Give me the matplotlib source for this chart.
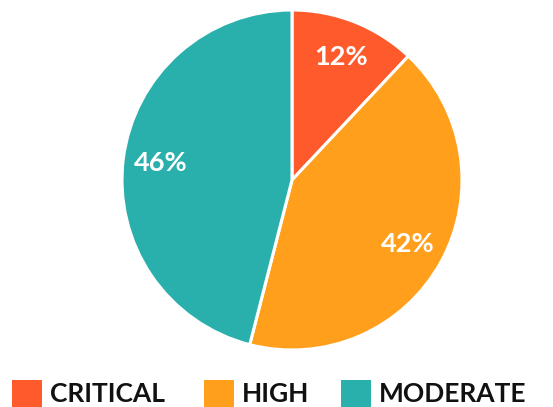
import matplotlib
matplotlib.use("Agg")
import matplotlib.pyplot as plt
from matplotlib.patches import Rectangle

categories = ["CRITICAL", "HIGH", "MODERATE"]
shares = [12, 42, 46]
colors = ["#FF5A2B", "#FF9F1C", "#2AB0AC"]

W, H = 553, 407
fig = plt.figure(figsize=(W / 100, H / 100), dpi=100)
fig.patch.set_facecolor("white")

# pie axes placed in pixel units: centre (292, 180), radius 170
cx, cy, r = 292, 180, 170
ax = fig.add_axes([(cx - r) / W, (H - cy - r) / H, 2 * r / W, 2 * r / H])
wedges, texts, autotexts = ax.pie(
    shares, colors=colors, startangle=90, counterclock=False,
    autopct=lambda p: f"{p:.0f}%", pctdistance=0.78, radius=1.0,
    wedgeprops=dict(edgecolor="white", linewidth=2.2),
    textprops=dict(color="white", fontsize=19.5, fontweight="bold", family="Lato"),
)
ax.set_xlim(-1.0, 1.0)
ax.set_ylim(-1.0, 1.0)
ax.set_aspect("equal")
ax.axis("off")

# legend row along the bottom edge
lax = fig.add_axes([0, 0, 1, 1])
lax.set_xlim(0, W)
lax.set_ylim(H, 0)
lax.axis("off")
sq_x = [12, 204, 341]
for x, lab, col in zip(sq_x, categories, colors):
    lax.add_patch(Rectangle((x, 380), 30, 28, facecolor=col, edgecolor="none"))
    lax.text(x + 38, 394.5, lab, fontsize=19, fontweight="bold", family="Lato",
             color="#111111", va="center", ha="left")

fig.savefig("out.png", dpi=100)
